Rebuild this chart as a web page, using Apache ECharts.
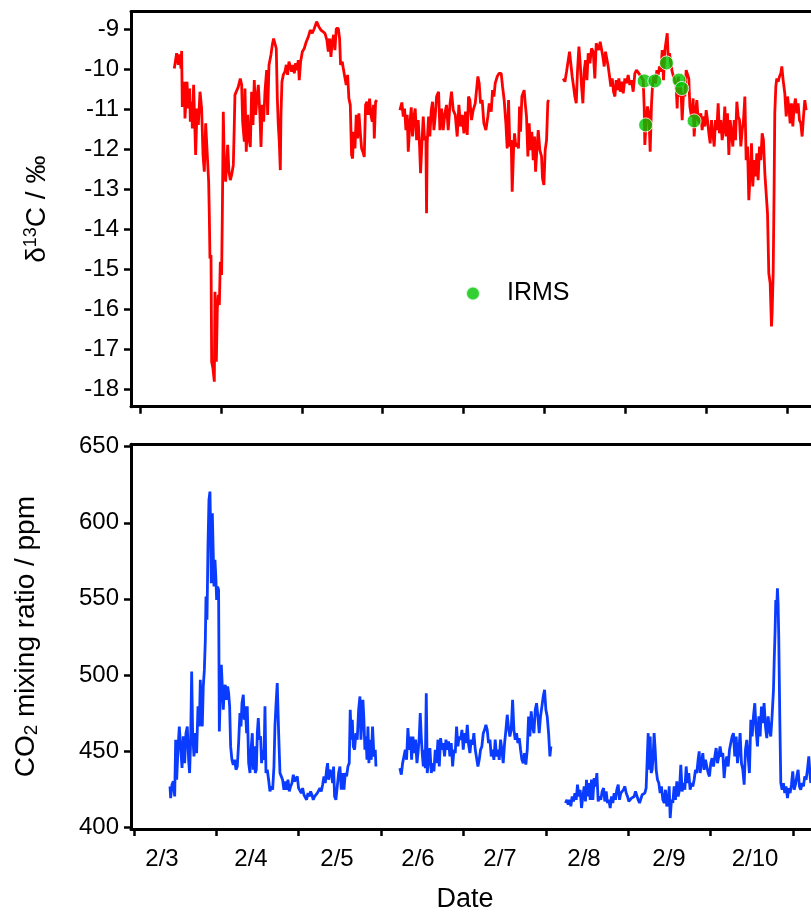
<!DOCTYPE html>
<html><head><meta charset="utf-8">
<script src="https://cdn.jsdelivr.net/npm/echarts@6/dist/echarts.min.js"></script>
<style>html,body{margin:0;padding:0;background:#fff;overflow:hidden}#c{width:811px;height:914px}</style>
</head><body><div id="c"></div>
<script>
// ---- axis ticks / labels ----
const dayTicks = [0, 1, 2, 3, 4, 5, 6, 7, 8];
const dateLabels = ['2/3', '2/4', '2/5', '2/6', '2/7', '2/8', '2/9', '2/10'];
const dateLabelPos = [0.340, 1.420, 2.464, 3.448, 4.443, 5.463, 6.495, 7.539];
const d13cTicks = [-18, -17, -16, -15, -14, -13, -12, -11, -10, -9];
const co2Ticks = [400, 450, 500, 550, 600, 650];

// ---- δ13C series (time in days, value in ‰), three measurement periods ----
const d13cSeg1 = [[0.424,-9.98],[0.453,-9.60],[0.474,-9.89],[0.490,-9.63],[0.507,-9.98],[0.515,-9.54],[0.523,-10.94],[0.548,-10.31],[0.556,-11.23],[0.581,-10.31],
[0.597,-10.98],[0.614,-10.48],[0.622,-11.31],[0.639,-10.81],[0.647,-11.48],[0.663,-10.39],[0.688,-12.14],[0.705,-10.98],[0.721,-11.39],[0.742,-10.56],
[0.762,-10.98],[0.779,-12.14],[0.795,-12.56],[0.812,-11.35],[0.832,-12.14],[0.849,-12.81],[0.857,-13.64],[0.865,-14.73],[0.878,-14.64],[0.886,-17.31],
[0.902,-17.48],[0.919,-17.81],[0.927,-15.56],[0.944,-17.31],[0.956,-15.98],[0.968,-15.64],[0.981,-15.89],[0.993,-14.81],[1.009,-15.14],[1.018,-13.64],
[1.030,-11.06],[1.042,-12.39],[1.059,-12.81],[1.084,-11.89],[1.100,-12.56],[1.117,-12.77],[1.133,-12.64],[1.154,-12.39],[1.166,-11.39],[1.174,-10.64],
[1.195,-10.60],[1.215,-10.44],[1.240,-10.23],[1.257,-10.39],[1.269,-11.31],[1.290,-11.81],[1.298,-10.48],[1.314,-12.06],[1.331,-11.14],[1.347,-11.73],
[1.364,-11.94],[1.380,-10.56],[1.397,-11.39],[1.413,-10.27],[1.430,-11.14],[1.446,-10.73],[1.463,-10.39],[1.483,-11.14],[1.496,-11.94],[1.512,-10.89],
[1.529,-11.31],[1.545,-10.56],[1.566,-10.02],[1.578,-11.14],[1.595,-9.89],[1.619,-9.64],[1.636,-9.39],[1.652,-9.23],[1.669,-9.27],[1.685,-9.48],
[1.698,-10.73],[1.710,-11.39],[1.722,-11.81],[1.735,-12.52],[1.743,-11.14],[1.755,-10.31],[1.772,-10.14],[1.792,-10.06],[1.809,-9.89],[1.825,-10.14],
[1.842,-9.81],[1.858,-9.77],[1.875,-10.06],[1.891,-9.89],[1.908,-10.10],[1.924,-9.85],[1.941,-10.02],[1.957,-9.77],[1.969,-10.27],[1.986,-9.81],
[2.007,-9.56],[2.031,-9.48],[2.056,-9.31],[2.081,-9.19],[2.105,-9.02],[2.130,-9.10],[2.155,-8.98],[2.184,-8.81],[2.213,-8.94],[2.237,-9.02],
[2.262,-9.06],[2.287,-9.10],[2.311,-9.27],[2.328,-9.56],[2.344,-9.23],[2.361,-9.69],[2.377,-9.31],[2.394,-9.14],[2.410,-9.52],[2.427,-8.98],
[2.452,-8.98],[2.468,-9.23],[2.480,-9.89],[2.501,-9.81],[2.517,-10.02],[2.534,-9.98],[2.550,-10.39],[2.567,-10.14],[2.583,-10.73],[2.600,-10.89],
[2.616,-12.14],[2.629,-12.23],[2.641,-11.56],[2.658,-11.98],[2.674,-11.14],[2.691,-11.73],[2.707,-11.10],[2.723,-11.56],[2.740,-11.98],[2.756,-12.06],
[2.773,-12.19],[2.789,-10.89],[2.806,-10.81],[2.822,-11.14],[2.839,-10.73],[2.855,-11.14],[2.872,-11.31],[2.888,-10.89],[2.897,-11.73],[2.913,-10.81],
[2.930,-10.77]];
const d13cSeg2 = [[3.214,-11.02],[3.238,-10.83],[3.255,-11.18],[3.271,-10.98],[3.288,-11.52],[3.304,-11.14],[3.317,-12.06],[3.337,-11.35],[3.354,-10.95],[3.370,-11.68],
[3.387,-11.18],[3.403,-10.98],[3.420,-11.77],[3.440,-11.27],[3.457,-11.93],[3.469,-12.60],[3.486,-11.85],[3.502,-11.18],[3.519,-11.77],[3.535,-11.68],
[3.543,-13.60],[3.551,-11.85],[3.568,-11.18],[3.584,-11.68],[3.601,-11.02],[3.617,-10.81],[3.634,-11.52],[3.650,-11.18],[3.667,-10.68],[3.692,-10.56],
[3.708,-11.52],[3.729,-10.98],[3.749,-11.52],[3.770,-11.10],[3.790,-10.89],[3.811,-11.52],[3.832,-10.89],[3.852,-10.56],[3.873,-11.02],[3.898,-11.14],
[3.922,-11.68],[3.943,-10.89],[3.964,-11.43],[3.984,-11.14],[4.005,-11.60],[4.025,-11.06],[4.046,-11.64],[4.062,-10.68],[4.079,-10.77],[4.099,-11.27],
[4.120,-11.02],[4.145,-10.85],[4.161,-10.52],[4.178,-10.18],[4.194,-10.35],[4.211,-10.85],[4.231,-10.77],[4.252,-11.35],[4.277,-11.52],[4.301,-11.18],
[4.318,-10.85],[4.343,-11.06],[4.359,-10.52],[4.376,-10.68],[4.392,-10.35],[4.417,-10.18],[4.441,-10.10],[4.466,-10.10],[4.483,-10.43],[4.503,-10.77],
[4.524,-11.35],[4.540,-11.98],[4.557,-10.77],[4.573,-11.93],[4.590,-11.77],[4.602,-13.06],[4.619,-12.02],[4.631,-11.60],[4.647,-11.93],[4.664,-11.85],
[4.680,-11.98],[4.693,-10.93],[4.705,-11.56],[4.722,-10.68],[4.738,-10.68],[4.750,-10.52],[4.763,-10.85],[4.779,-11.18],[4.796,-12.18],[4.812,-11.35],
[4.829,-12.02],[4.845,-11.56],[4.862,-12.27],[4.878,-11.68],[4.891,-12.56],[4.907,-12.02],[4.924,-11.52],[4.944,-12.02],[4.965,-12.18],[4.977,-12.73],
[4.994,-12.89],[5.010,-12.02],[5.027,-11.77],[5.043,-10.81],[5.055,-10.77]];
const d13cSeg3 = [[5.233,-10.23],[5.254,-10.31],[5.274,-10.06],[5.295,-9.77],[5.311,-9.56],[5.328,-9.52],[5.344,-10.18],[5.361,-10.43],[5.377,-10.68],[5.394,-10.85],
[5.410,-10.02],[5.427,-9.43],[5.443,-9.85],[5.460,-10.43],[5.476,-10.85],[5.493,-10.02],[5.509,-9.77],[5.526,-10.27],[5.542,-9.60],[5.563,-9.85],
[5.583,-9.48],[5.604,-9.56],[5.624,-10.23],[5.641,-9.35],[5.657,-9.43],[5.674,-9.52],[5.690,-9.31],[5.707,-9.35],[5.723,-9.68],[5.740,-9.93],
[5.756,-9.56],[5.773,-9.60],[5.789,-9.93],[5.806,-10.18],[5.822,-10.43],[5.839,-10.23],[5.855,-10.56],[5.872,-10.68],[5.888,-10.27],[5.905,-10.52],
[5.921,-10.23],[5.938,-10.56],[5.954,-10.31],[5.975,-10.60],[5.995,-10.23],[6.016,-10.35],[6.036,-10.14],[6.057,-10.39],[6.078,-10.27],[6.098,-10.56],
[6.119,-10.10],[6.139,-10.02],[6.160,-10.00],[6.181,-10.14],[6.201,-10.18],[6.222,-10.27],[6.234,-10.93],[6.242,-11.89],[6.259,-11.27],[6.275,-10.93],
[6.292,-11.10],[6.308,-12.06],[6.325,-10.85],[6.341,-10.27],[6.358,-10.18],[6.374,-10.35],[6.391,-10.02],[6.407,-10.14],[6.424,-9.93],[6.440,-10.06],
[6.457,-9.52],[6.473,-10.27],[6.490,-9.52],[6.506,-9.56],[6.519,-9.10],[6.531,-9.68],[6.547,-9.60],[6.564,-9.85],[6.580,-10.06],[6.597,-10.18],
[6.613,-10.27],[6.630,-10.43],[6.642,-10.98],[6.655,-10.18],[6.671,-10.68],[6.687,-10.43],[6.704,-11.27],[6.720,-10.60],[6.737,-10.68],[6.753,-10.02],
[6.770,-9.98],[6.786,-10.23],[6.799,-10.93],[6.819,-11.18],[6.840,-10.73],[6.852,-11.68],[6.869,-11.10],[6.885,-10.77],[6.902,-11.27],[6.918,-11.35],
[6.935,-11.10],[6.951,-11.52],[6.968,-11.18],[6.984,-11.43],[7.001,-11.02],[7.017,-11.27],[7.034,-11.60],[7.050,-11.85],[7.067,-11.27],[7.083,-11.60],
[7.100,-11.93],[7.116,-11.27],[7.132,-11.52],[7.149,-10.85],[7.165,-11.60],[7.182,-11.27],[7.198,-11.77],[7.215,-11.52],[7.231,-10.93],[7.248,-11.68],
[7.264,-11.10],[7.281,-12.14],[7.297,-11.27],[7.314,-11.60],[7.330,-11.93],[7.347,-11.27],[7.363,-11.77],[7.380,-10.81],[7.396,-11.18],[7.413,-11.27],
[7.429,-11.93],[7.446,-11.52],[7.462,-11.27],[7.479,-10.68],[7.495,-12.27],[7.512,-11.93],[7.528,-13.27],[7.545,-12.60],[7.561,-11.85],[7.577,-12.93],
[7.594,-12.27],[7.610,-12.68],[7.627,-12.10],[7.643,-12.77],[7.660,-11.93],[7.676,-12.27],[7.693,-11.60],[7.709,-11.77],[7.726,-12.60],[7.742,-12.60],
[7.759,-13.60],[7.775,-15.10],[7.792,-15.35],[7.808,-16.43],[7.816,-16.10],[7.829,-15.10],[7.841,-12.93],[7.849,-11.10],[7.862,-10.43],[7.874,-10.23],
[7.891,-10.31],[7.907,-10.18],[7.924,-10.10],[7.936,-9.93],[7.952,-10.27],[7.973,-10.60],[7.990,-11.18],[8.006,-10.68],[8.022,-10.93],[8.039,-11.35],
[8.055,-10.85],[8.072,-11.43],[8.088,-10.93],[8.105,-10.73],[8.121,-11.10],[8.138,-10.85],[8.154,-11.27],[8.171,-11.35],[8.187,-11.68],[8.204,-11.18],
[8.220,-10.77],[8.237,-11.02]];

// ---- IRMS δ13C samples ----
const irmsTime = [6.234, 6.366, 6.510, 6.665, 6.699, 6.252, 6.851];
const irmsValue = [-10.29, -10.29, -9.84, -10.27, -10.48, -11.39, -11.29];

// ---- CO2 mixing ratio series (time in days, ppm) ----
const co2Seg1 = [[0.437,426.7],[0.445,419.0],[0.461,427.8],[0.477,430.0],[0.494,420.1],[0.506,457.4],[0.518,431.1],[0.534,450.8],[0.550,466.1],[0.566,453.0],
[0.583,438.8],[0.599,459.6],[0.615,442.0],[0.631,461.7],[0.647,466.1],[0.663,444.2],[0.675,435.5],[0.688,457.4],[0.700,502.2],[0.712,461.7],
[0.728,446.4],[0.744,461.7],[0.760,448.6],[0.777,479.3],[0.793,466.1],[0.805,496.8],[0.817,474.9],[0.829,466.1],[0.841,492.4],[0.854,503.3],
[0.866,523.0],[0.874,551.5],[0.886,536.2],[0.898,584.3],[0.910,615.0],[0.922,620.5],[0.930,595.3],[0.938,560.3],[0.951,606.2],[0.963,577.8],
[0.971,558.1],[0.983,575.6],[0.995,562.4],[1.003,549.3],[1.015,558.1],[1.027,555.9],[1.036,462.8],[1.048,488.0],[1.060,506.6],[1.072,492.4],
[1.084,477.1],[1.096,490.2],[1.108,493.5],[1.125,483.6],[1.137,492.4],[1.149,488.0],[1.161,479.3],[1.173,453.0],[1.189,444.2],[1.205,440.9],
[1.222,444.2],[1.238,437.7],[1.254,439.8],[1.270,455.2],[1.286,474.9],[1.299,466.1],[1.311,481.5],[1.327,486.9],[1.339,470.5],[1.351,479.3],
[1.367,461.7],[1.375,479.3],[1.392,442.0],[1.408,435.5],[1.424,453.0],[1.436,461.7],[1.448,437.7],[1.460,453.0],[1.472,435.5],[1.485,437.7],
[1.497,461.7],[1.509,471.6],[1.521,457.4],[1.537,459.6],[1.549,442.0],[1.561,450.8],[1.578,444.2],[1.590,479.3],[1.602,435.5],[1.618,437.7],
[1.634,431.1],[1.650,423.4],[1.667,426.7],[1.683,424.5],[1.699,439.8],[1.711,466.1],[1.723,479.3],[1.739,494.6],[1.756,461.7],[1.772,435.5],
[1.788,433.3],[1.804,431.1],[1.820,424.5],[1.837,430.0],[1.853,424.5],[1.869,431.1],[1.885,423.4],[1.901,426.7],[1.918,428.9],[1.934,434.4],
[1.950,430.0],[1.966,428.9],[1.982,433.3],[1.998,425.6],[2.015,426.7],[2.031,422.3],[2.047,425.6],[2.063,421.2],[2.079,422.3],[2.095,417.9],
[2.112,422.3],[2.128,420.1],[2.144,423.4],[2.160,421.2],[2.176,417.9],[2.193,420.1],[2.209,421.2],[2.225,422.3],[2.241,423.4],[2.257,425.6],
[2.273,423.4],[2.290,427.8],[2.306,433.3],[2.322,428.9],[2.338,437.7],[2.350,442.0],[2.362,431.1],[2.379,437.7],[2.395,435.5],[2.411,428.9],
[2.423,439.8],[2.435,420.1],[2.451,417.9],[2.468,417.9],[2.484,435.5],[2.500,439.8],[2.516,424.5],[2.532,435.5],[2.549,424.5],[2.565,435.5],
[2.581,433.3],[2.597,439.8],[2.613,442.0],[2.625,477.1],[2.638,457.4],[2.650,470.5],[2.662,453.0],[2.678,450.8],[2.694,461.7],[2.710,457.4],
[2.727,477.1],[2.743,485.8],[2.755,457.4],[2.767,470.5],[2.779,483.6],[2.791,470.5],[2.803,450.8],[2.816,459.6],[2.828,444.2],[2.840,466.1],
[2.852,442.0],[2.864,457.4],[2.880,444.2],[2.896,466.1],[2.913,446.4],[2.929,450.8],[2.937,439.8]];
const co2Seg2 = [[3.228,438.7],[3.245,434.4],[3.261,442.0],[3.277,446.4],[3.293,450.8],[3.309,444.2],[3.325,465.0],[3.342,450.8],[3.358,459.5],[3.370,444.2],
[3.386,459.5],[3.402,448.6],[3.418,457.4],[3.435,442.0],[3.451,450.8],[3.463,459.5],[3.475,474.9],[3.487,459.5],[3.499,448.6],[3.512,439.8],
[3.524,450.8],[3.536,438.7],[3.548,488.0],[3.560,435.5],[3.576,444.2],[3.592,451.9],[3.609,435.5],[3.625,442.0],[3.641,436.6],[3.657,450.8],
[3.673,442.0],[3.690,457.4],[3.706,439.8],[3.722,458.5],[3.738,450.8],[3.754,455.2],[3.770,446.4],[3.787,457.4],[3.803,450.8],[3.819,456.3],
[3.835,446.4],[3.851,455.2],[3.868,439.8],[3.884,450.8],[3.900,448.6],[3.916,466.1],[3.932,453.0],[3.948,459.5],[3.965,457.4],[3.981,463.9],
[3.997,450.8],[4.013,461.7],[4.029,455.2],[4.046,467.2],[4.062,454.1],[4.078,448.6],[4.094,457.4],[4.110,454.1],[4.126,461.7],[4.143,450.8],
[4.159,445.3],[4.175,439.8],[4.191,444.2],[4.207,450.8],[4.223,453.0],[4.240,461.7],[4.256,463.9],[4.272,467.2],[4.288,463.9],[4.304,455.2],
[4.321,457.4],[4.337,446.4],[4.353,450.8],[4.369,444.2],[4.385,457.4],[4.401,446.4],[4.418,450.8],[4.434,444.2],[4.450,457.4],[4.466,450.8],
[4.482,442.0],[4.499,455.2],[4.515,463.9],[4.531,473.8],[4.547,465.0],[4.563,459.5],[4.579,463.9],[4.596,483.6],[4.612,463.9],[4.628,457.4],
[4.644,461.7],[4.660,455.2],[4.677,458.5],[4.693,450.8],[4.709,444.2],[4.725,442.0],[4.741,448.6],[4.757,441.0],[4.774,450.8],[4.790,472.7],
[4.806,459.5],[4.822,476.0],[4.838,466.1],[4.855,461.7],[4.871,477.1],[4.887,481.4],[4.903,472.7],[4.919,461.7],[4.935,472.7],[4.952,479.3],
[4.968,485.8],[4.984,490.2],[5.000,477.1],[5.016,472.7],[5.033,461.7],[5.049,446.4],[5.061,453.0]];
const co2Seg3 = [[5.238,415.8],[5.255,417.9],[5.271,414.7],[5.287,417.9],[5.303,413.6],[5.319,420.1],[5.336,416.8],[5.352,422.3],[5.368,417.9],[5.384,427.8],
[5.400,420.1],[5.416,424.5],[5.433,412.5],[5.449,420.1],[5.465,426.7],[5.481,416.8],[5.493,431.1],[5.505,420.1],[5.522,428.9],[5.538,417.9],
[5.554,431.1],[5.570,417.9],[5.586,432.2],[5.603,426.7],[5.619,435.5],[5.635,416.8],[5.651,420.1],[5.667,417.9],[5.683,423.4],[5.700,425.6],
[5.716,416.8],[5.732,423.4],[5.748,415.8],[5.764,417.9],[5.781,412.5],[5.797,420.1],[5.813,415.8],[5.829,422.3],[5.845,417.9],[5.861,424.5],
[5.878,427.8],[5.894,417.9],[5.910,422.3],[5.926,423.4],[5.942,424.5],[5.959,426.7],[5.975,422.3],[5.991,420.1],[6.007,416.8],[6.023,417.9],
[6.039,419.0],[6.056,417.9],[6.072,420.1],[6.088,423.4],[6.104,424.5],[6.120,417.9],[6.137,415.8],[6.153,416.8],[6.169,421.2],[6.185,420.1],
[6.201,422.3],[6.217,425.6],[6.230,426.7],[6.242,461.7],[6.254,437.6],[6.266,459.5],[6.278,435.5],[6.290,437.6],[6.302,446.4],[6.314,461.7],
[6.327,450.8],[6.339,437.6],[6.355,431.1],[6.371,428.9],[6.387,422.3],[6.403,426.7],[6.420,417.9],[6.436,415.8],[6.452,424.5],[6.468,413.6],
[6.484,415.8],[6.497,426.7],[6.509,405.9],[6.525,417.9],[6.541,415.8],[6.557,426.7],[6.573,417.9],[6.590,430.0],[6.606,420.1],[6.622,424.5],
[6.638,440.9],[6.654,423.4],[6.670,428.9],[6.687,424.5],[6.703,439.8],[6.719,428.9],[6.735,435.5],[6.751,424.5],[6.768,428.9],[6.784,426.7],
[6.800,431.1],[6.816,437.6],[6.832,435.5],[6.848,444.2],[6.861,449.7],[6.873,435.5],[6.889,442.0],[6.905,448.6],[6.921,437.6],[6.937,444.2],
[6.954,445.3],[6.970,435.5],[6.986,433.3],[7.002,442.0],[7.018,445.3],[7.035,439.8],[7.051,446.4],[7.067,451.9],[7.083,442.0],[7.099,446.4],
[7.115,453.0],[7.132,446.4],[7.148,448.6],[7.164,432.2],[7.180,442.0],[7.196,446.4],[7.213,439.8],[7.229,450.8],[7.245,455.2],[7.261,459.5],
[7.277,461.7],[7.293,446.4],[7.310,459.5],[7.326,442.0],[7.342,450.8],[7.358,461.7],[7.374,442.0],[7.391,437.6],[7.407,427.8],[7.423,450.8],
[7.439,457.3],[7.455,446.4],[7.471,435.5],[7.488,470.5],[7.504,459.5],[7.520,472.7],[7.536,481.4],[7.552,463.9],[7.569,453.0],[7.585,472.7],
[7.601,459.5],[7.617,479.2],[7.633,468.3],[7.649,481.4],[7.666,466.1],[7.682,458.4],[7.698,472.7],[7.714,463.9],[7.730,459.5],[7.747,473.8],
[7.763,490.2],[7.771,507.7],[7.783,529.6],[7.791,549.3],[7.803,544.9],[7.811,557.0],[7.819,547.1],[7.827,525.2],[7.840,470.5],[7.852,428.9],
[7.868,424.5],[7.884,428.9],[7.900,422.3],[7.916,426.7],[7.933,419.0],[7.949,425.6],[7.965,422.3],[7.981,427.8],[7.997,436.6],[8.013,424.5],
[8.030,427.8],[8.046,433.3],[8.062,437.6],[8.078,426.7],[8.094,424.5],[8.111,428.9],[8.127,426.7],[8.143,433.3],[8.159,431.1],[8.175,437.6],
[8.192,446.4],[8.208,433.3],[8.216,428.9]];

// ---- build gapped series ----
function joinSegments(segs) {
  const out = [];
  segs.forEach((s, i) => {
    if (i > 0) out.push([(segs[i - 1][segs[i - 1].length - 1][0] + s[0][0]) / 2, null]);
    s.forEach(p => out.push(p));
  });
  return out;
}
const d13cData = joinSegments([d13cSeg1, d13cSeg2, d13cSeg3]);
const co2Data = joinSegments([co2Seg1, co2Seg2, co2Seg3]);
const irmsData = irmsTime.map((t, i) => [t, irmsValue[i]]);

const FONT = '"Liberation Sans", Arial, Helvetica, sans-serif';
const tickStyle = { show: true, inside: false, length: 7, lineStyle: { color: '#000', width: 2.5 } };
const lineStyle = { show: true, onZero: false, lineStyle: { color: '#000', width: 3 } };
const X0 = { min: -0.1113, max: 8.2968 };
const X1 = { min: -0.0364, max: 8.2185 };

const chart = echarts.init(document.getElementById('c'), null, { renderer: 'canvas' });
chart.setOption({
  animation: false,
  backgroundColor: '#fff',
  textStyle: { fontFamily: FONT, color: '#000' },
  grid: [
    { left: 131, top: 11.7, height: 395, right: 0 },
    { left: 131, top: 444.3, height: 385, right: 0 }
  ],
  legend: {
    data: ['IRMS'], left: 465, top: 281, padding: 0, itemWidth: 14, itemHeight: 14, icon: 'circle',
    textStyle: { fontSize: 25, color: '#000', fontFamily: FONT, padding: [0, 0, 0, 22] }
  },
  xAxis: [
    {
      gridIndex: 0, type: 'value', position: 'bottom', min: X0.min, max: X0.max,
      axisLine: lineStyle, splitLine: { show: false },
      axisTick: Object.assign({ customValues: dayTicks }, tickStyle),
      axisLabel: { show: false }
    },
    {
      gridIndex: 1, type: 'value', position: 'bottom', min: X1.min, max: X1.max,
      axisLine: lineStyle, splitLine: { show: false },
      axisTick: Object.assign({ customValues: dayTicks }, tickStyle),
      axisLabel: {
        customValues: dateLabelPos, fontSize: 24, color: '#000', fontFamily: FONT, margin: 18,
        formatter: function (v) {
          const i = dateLabelPos.findIndex(p => Math.abs(p - v) < 1e-6);
          return i >= 0 ? dateLabels[i] : '';
        }
      },
      name: 'Date', nameLocation: 'middle', nameGap: 57,
      nameTextStyle: { fontSize: 27, color: '#000', fontFamily: FONT, padding: [0, 12, 0, 0] }
    },
    {
      gridIndex: 0, type: 'value', position: 'top', min: X0.min, max: X0.max,
      axisLine: lineStyle, splitLine: { show: false }, axisTick: { show: false }, axisLabel: { show: false }
    },
    {
      gridIndex: 1, type: 'value', position: 'top', min: X1.min, max: X1.max,
      axisLine: lineStyle, splitLine: { show: false }, axisTick: { show: false }, axisLabel: { show: false }
    }
  ],
  yAxis: [
    {
      gridIndex: 0, type: 'value', min: -18.435, max: -8.56,
      axisLine: lineStyle, splitLine: { show: false },
      axisTick: Object.assign({ customValues: d13cTicks }, tickStyle),
      axisLabel: { customValues: d13cTicks, fontSize: 24, color: '#000', fontFamily: FONT, margin: 12 },
      name: '{a|δ}{s|13}{a|C / ‰}', nameLocation: 'middle', nameGap: 79,
      nameTextStyle: {
        color: '#000', fontFamily: FONT,
        rich: {
          a: { fontSize: 28, lineHeight: 30, fontFamily: FONT, color: '#000' },
          s: { fontSize: 18, lineHeight: 17, verticalAlign: 'top', fontFamily: FONT, color: '#000' }
        }
      }
    },
    {
      gridIndex: 1, type: 'value', min: 398.7, max: 651.6,
      axisLine: lineStyle, splitLine: { show: false },
      axisTick: Object.assign({ customValues: co2Ticks }, tickStyle),
      axisLabel: { customValues: co2Ticks, fontSize: 24, color: '#000', fontFamily: FONT, margin: 12 },
      name: '{a|CO}{b|2}{a| mixing ratio / ppm}', nameLocation: 'middle', nameGap: 90,
      nameTextStyle: {
        color: '#000', fontFamily: FONT,
        rich: {
          a: { fontSize: 28, lineHeight: 30, fontFamily: FONT, color: '#000' },
          b: { fontSize: 19, lineHeight: 12, verticalAlign: 'bottom', fontFamily: FONT, color: '#000' }
        }
      }
    }
  ],
  series: [
    {
      name: 'δ13C', type: 'line', xAxisIndex: 0, yAxisIndex: 0, data: d13cData,
      symbol: 'none', showSymbol: false, connectNulls: false,
      lineStyle: { color: '#ff0000', width: 2.8 }, itemStyle: { color: '#ff0000' }, z: 2
    },
    {
      name: 'IRMS', type: 'scatter', xAxisIndex: 0, yAxisIndex: 0, data: irmsData,
      symbol: 'circle', symbolSize: 14,
      itemStyle: { color: '#00c400', borderColor: '#ffffff', borderWidth: 1 }, z: 5
    },
    {
      name: 'CO2', type: 'line', xAxisIndex: 1, yAxisIndex: 1, data: co2Data,
      symbol: 'none', showSymbol: false, connectNulls: false,
      lineStyle: { color: '#0a3cff', width: 2.8 }, itemStyle: { color: '#0a3cff' }, z: 2
    }
  ]
});
</script>
</body></html>
